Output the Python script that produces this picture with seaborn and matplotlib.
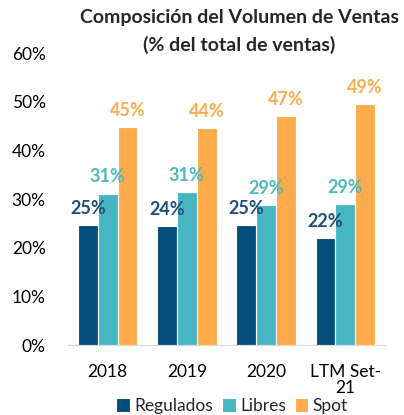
import numpy as np
import pandas as pd
import matplotlib
matplotlib.use('Agg')
import matplotlib.pyplot as plt
import seaborn as sns

###################################################################################
#Data

periodos = ['2018', '2019', '2020', 'LTM Set-\n21']
series = ['Regulados', 'Libres', 'Spot']
regulados = [24.6, 24.4, 24.6, 22.0]
libres = [31.1, 31.4, 28.7, 29.0]
spot = [44.8, 44.6, 47.0, 49.5]
etiquetas_reg = ['25%', '24%', '25%', '22%']
etiquetas_lib = ['31%', '31%', '29%', '29%']
etiquetas_spot = ['45%', '44%', '47%', '49%']
y_ticks = [0, 10, 20, 30, 40, 50, 60]

colores = ['#034E7B', '#46B6C2', '#FFAB4C']
colores_txt = ['#1F4E79', '#4BB8C4', '#FFAA4D']

df = pd.DataFrame({
    'periodo': periodos * 3,
    'serie': np.repeat(series, len(periodos)),
    'valor': regulados + libres + spot,
})

###################################################################################
#Seaborn Plot

sns.set_style('white')
plt.rcParams['font.family'] = ['Lato', 'DejaVu Sans']

fig = plt.figure(figsize=(4.04, 4.15), dpi=100)
ax = fig.add_axes([68/404, 1-345/415, (385-68)/404, (345-53)/415])

sns.barplot(data=df, x='periodo', y='valor', hue='serie', palette=colores, saturation=1,
            width=0.75, edgecolor='white', linewidth=0.8, ax=ax, legend=True)

for cont, labs, col in zip(ax.containers, [etiquetas_reg, etiquetas_lib, etiquetas_spot], colores_txt):
    ax.bar_label(cont, labels=labs, padding=6, color=col, fontweight='bold', fontsize=13)

ax.set_ylim(0, 60)
ax.set_xlim(-0.5, 3.5)
ax.set_yticks(y_ticks)
ax.set_yticklabels([f'{t}%' for t in y_ticks])
ax.tick_params(axis='both', length=0, labelsize=12.5, colors='#000000')
ax.tick_params(axis='y', pad=16)
ax.tick_params(axis='x', pad=14)
for lab in ax.get_xticklabels():
    lab.set_linespacing(1.0)
ax.set_xlabel('')
ax.set_ylabel('')
for s in ['top', 'right', 'left']:
    ax.spines[s].set_visible(False)
ax.spines['bottom'].set_color('#D9D9D9')
ax.grid(False)

handles, labels = ax.get_legend_handles_labels()
ax.get_legend().remove()
fig.legend(handles, labels, loc='center', bbox_to_anchor=(232/404, 1-406/415), ncol=3,
           frameon=False, handlelength=0.8, handleheight=0.8, handletextpad=0.25,
           columnspacing=0.5, fontsize=12.5)

fig.text(239/404, 1-17/415, 'Composición del Volumen de Ventas', ha='center', va='center',
         fontweight='bold', fontsize=14)
fig.text(239/404, 1-45/415, '(% del total de ventas)', ha='center', va='center',
         fontweight='bold', fontsize=14)

fig.savefig('out.png', dpi=100)
